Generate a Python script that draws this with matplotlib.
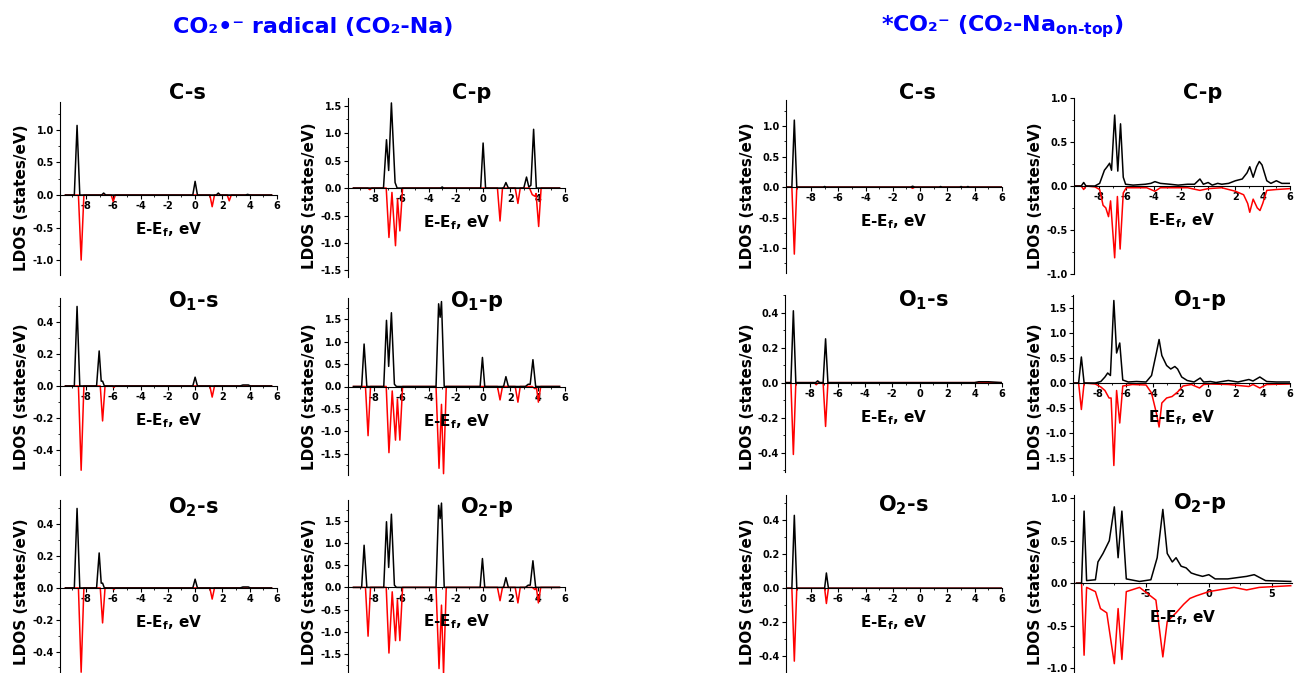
"""Spin-resolved LDOS panels for CO2 radical vs CO2 on-top (12 small plots)."""

import matplotlib
matplotlib.use("Agg")
import matplotlib.pyplot as plt
import matplotlib.transforms as mtransforms
from matplotlib.ticker import MultipleLocator, AutoMinorLocator, FormatStrFormatter, FixedLocator

plt.rcParams['font.family'] = ['DejaVu Sans']
plt.rcParams['font.weight'] = 'bold'
plt.rcParams['mathtext.fontset'] = 'custom'
plt.rcParams['mathtext.rm'] = 'DejaVu Sans:bold'
plt.rcParams['mathtext.it'] = 'DejaVu Sans:bold'
plt.rcParams['mathtext.bf'] = 'DejaVu Sans:bold'
plt.rcParams['mathtext.default'] = 'bf'
plt.rcParams['axes.unicode_minus'] = False

# ---- data: (E-Ef [eV], LDOS [states/eV]) vertices ----
# left block: CO2 radical (CO2-Na)
rad_cs_up = [(-9.5, 0), (-8.85, 0), (-8.65, 1.07), (-8.45, 0), (-6.85, 0), (-6.7, 0.03), (-6.55, 0),
             (-0.17, 0), (0.0, 0.21), (0.17, 0), (1.55, 0), (1.7, 0.03), (1.85, 0), (3.7, 0),
             (3.85, 0.01), (4.0, 0), (5.6, 0)]
rad_cs_dn = [(-9.5, 0), (-8.55, 0), (-8.35, -1.0), (-8.15, 0), (-6.15, 0), (-6.0, -0.1), (-5.85, 0),
             (1.08, 0), (1.25, -0.18), (1.42, 0), (2.35, 0), (2.5, -0.09), (2.65, 0), (5.6, 0)]
rad_cp_up = [(-9.5, 0), (-7.3, 0), (-7.08, 0.88), (-6.92, 0.32), (-6.72, 1.55), (-6.45, 0.1), (-6.3, 0),
             (-3.1, 0), (-3.0, 0.02), (-2.9, 0), (-0.18, 0), (0.0, 0.82), (0.18, 0), (1.5, 0),
             (1.67, 0.1), (1.85, 0), (2.98, 0), (3.18, 0.2), (3.35, 0.02), (3.5, 0.05), (3.7, 1.07),
             (3.9, 0), (5.6, 0)]
rad_cp_dn = [(-9.5, 0), (-8.45, 0), (-8.3, -0.03), (-8.15, 0), (-7.1, 0), (-6.9, -0.9), (-6.68, -0.08),
             (-6.42, -1.05), (-6.27, -0.2), (-6.1, -0.78), (-5.9, 0), (1.05, 0), (1.24, -0.6),
             (1.42, 0), (2.35, 0), (2.55, -0.28), (2.72, 0), (3.4, 0), (3.6, -0.12), (3.8, -0.15),
             (3.88, -0.1), (4.07, -0.7), (4.25, 0), (5.6, 0)]
rad_o1s_up = [(-9.5, 0), (-8.85, 0), (-8.65, 0.5), (-8.45, 0), (-7.22, 0), (-7.03, 0.22), (-6.88, 0.03),
              (-6.78, 0.03), (-6.65, 0), (-0.17, 0), (0.0, 0.055), (0.17, 0), (3.3, 0), (3.5, 0.006),
              (3.9, 0.006), (4.05, 0), (5.6, 0)]
rad_o1s_dn = [(-9.5, 0), (-8.55, 0), (-8.35, -0.53), (-8.15, 0), (-6.95, 0), (-6.78, -0.22), (-6.6, 0),
              (-6.05, 0), (-5.95, -0.01), (-5.85, 0), (1.08, 0), (1.25, -0.07), (1.42, 0), (5.6, 0)]
rad_o1p_up = [(-9.5, 0), (-8.9, 0), (-8.72, 0.95), (-8.52, 0), (-7.28, 0), (-7.08, 1.48), (-6.92, 0.45),
              (-6.72, 1.65), (-6.5, 0.05), (-6.35, 0), (-3.45, 0), (-3.26, 1.85), (-3.15, 1.55),
              (-3.05, 1.9), (-2.85, 0), (-0.22, 0), (-0.05, 0.65), (0.12, 0), (1.5, 0), (1.67, 0.22),
              (1.85, 0), (3.1, 0), (3.3, 0.05), (3.45, 0.05), (3.65, 0.6), (3.85, 0), (5.6, 0)]
rad_o1p_dn = [(-9.5, 0), (-8.62, 0), (-8.43, -1.1), (-8.25, 0), (-7.1, 0), (-6.9, -1.48), (-6.66, -0.1),
              (-6.42, -1.2), (-6.28, -0.28), (-6.1, -1.2), (-5.9, 0), (-3.45, 0), (-3.23, -1.83),
              (-3.05, -0.4), (-2.9, -1.95), (-2.7, 0), (1.05, 0), (1.24, -0.3), (1.42, 0), (2.35, 0),
              (2.55, -0.35), (2.72, 0), (3.6, 0), (3.8, -0.05), (3.9, 0), (4.05, -0.35), (4.22, 0),
              (5.6, 0)]
# O2 curves of the radical are the same as O1 (symmetric molecule)
rad_o2s_up, rad_o2s_dn = rad_o1s_up, rad_o1s_dn
rad_o2p_up, rad_o2p_dn = rad_o1p_up, rad_o1p_dn

# right block: *CO2- (CO2-Na on-top)
top_cs_up = [(-9.8, 0), (-9.4, 0), (-9.22, 1.1), (-9.04, 0), (-7.1, 0), (-7.0, 0.01), (-6.9, 0),
             (-0.7, 0), (-0.55, 0.015), (-0.4, 0), (1.4, 0), (1.5, 0.01), (1.6, 0), (2.9, 0),
             (3.0, 0.01), (3.1, 0), (3.4, 0), (3.5, 0.01), (3.6, 0), (6.0, 0)]
top_cs_dn = [(-9.8, 0), (-9.4, 0), (-9.22, -1.1), (-9.04, 0), (-0.7, 0), (-0.55, -0.02), (-0.4, 0),
             (6.0, 0)]
top_cp_up = [(-9.8, 0.0), (-9.3, 0.0), (-9.12, 0.04), (-8.95, 0.0), (-8.3, 0.0), (-7.95, 0.03),
             (-7.6, 0.18), (-7.4, 0.22), (-7.22, 0.26), (-7.08, 0.18), (-6.85, 0.81), (-6.62, 0.17),
             (-6.42, 0.71), (-6.22, 0.1), (-6.05, 0.02), (-5.5, 0.01), (-4.6, 0.02), (-4.2, 0.03),
             (-3.9, 0.05), (-3.5, 0.03), (-2.8, 0.02), (-2.2, 0.01), (-1.5, 0.02), (-1.0, 0.02),
             (-0.6, 0.08), (-0.35, 0.02), (0.0, 0.04), (0.3, 0.01), (0.7, 0.03), (1.0, 0.02),
             (1.5, 0.03), (2.0, 0.06), (2.5, 0.08), (2.85, 0.15), (3.05, 0.22), (3.3, 0.1),
             (3.55, 0.22), (3.75, 0.28), (3.95, 0.24), (4.3, 0.06), (4.6, 0.03), (5.0, 0.06),
             (5.4, 0.03), (6.0, 0.03)]
top_cp_dn = [(-9.8, 0.0), (-9.3, 0.0), (-9.12, -0.04), (-8.95, 0.0), (-8.3, -0.01), (-7.95, -0.04),
             (-7.7, -0.22), (-7.5, -0.25), (-7.3, -0.35), (-7.15, -0.17), (-6.85, -0.82),
             (-6.65, -0.12), (-6.45, -0.72), (-6.22, -0.08), (-6.0, -0.02), (-4.5, -0.02),
             (-3.9, -0.06), (-3.5, -0.02), (-2.5, -0.02), (-1.5, -0.02), (-0.6, -0.05), (0.0, -0.03),
             (1.0, -0.02), (2.0, -0.06), (2.6, -0.1), (2.9, -0.2), (3.05, -0.3), (3.3, -0.15),
             (3.6, -0.25), (3.8, -0.28), (4.0, -0.2), (4.3, -0.05), (5.0, -0.04), (6.0, -0.03)]
top_o1s_up = [(-9.8, 0), (-9.4, 0), (-9.22, 0.41), (-9.04, 0), (-7.6, 0), (-7.45, 0.01), (-7.3, 0),
              (-7.05, 0), (-6.87, 0.25), (-6.7, 0), (4.0, 0), (4.3, 0.005), (5.0, 0.005), (6.0, 0)]
top_o1s_dn = [(-9.8, 0), (-9.4, 0), (-9.22, -0.41), (-9.04, 0), (-7.7, 0), (-7.55, -0.012), (-7.4, 0),
              (-7.05, 0), (-6.87, -0.25), (-6.7, 0), (6.0, 0)]
top_o1p_up = [(-9.8, 0.0), (-9.42, 0.0), (-9.22, 0.52), (-9.02, 0.0), (-8.2, 0.0), (-7.8, 0.03),
              (-7.5, 0.12), (-7.3, 0.2), (-7.1, 0.15), (-6.85, 1.65), (-6.65, 0.6), (-6.42, 0.8),
              (-6.2, 0.06), (-5.8, 0.02), (-5.2, 0.03), (-4.5, 0.02), (-4.1, 0.15), (-3.75, 0.6),
              (-3.55, 0.87), (-3.35, 0.55), (-3.0, 0.35), (-2.7, 0.28), (-2.4, 0.33), (-2.2, 0.28),
              (-1.9, 0.12), (-1.5, 0.05), (-1.0, 0.02), (-0.55, 0.1), (-0.3, 0.02), (0.2, 0.03),
              (0.6, 0.01), (1.5, 0.05), (2.2, 0.02), (3.0, 0.07), (3.3, 0.04), (3.8, 0.12),
              (4.3, 0.03), (5.0, 0.02), (6.0, 0.02)]
top_o1p_dn = [(-9.8, 0.0), (-9.42, 0.0), (-9.22, -0.53), (-9.02, 0.0), (-8.2, -0.02), (-7.8, -0.08),
              (-7.5, -0.15), (-7.2, -0.3), (-7.05, -0.3), (-6.85, -1.65), (-6.65, -0.15),
              (-6.42, -0.8), (-6.2, -0.06), (-5.5, -0.03), (-4.5, -0.04), (-4.1, -0.2), (-3.75, -0.6),
              (-3.55, -0.88), (-3.35, -0.4), (-3.0, -0.3), (-2.6, -0.27), (-2.2, -0.18), (-1.8, -0.06),
              (-1.2, -0.03), (-0.6, -0.1), (-0.3, -0.03), (0.2, -0.02), (1.5, -0.03), (3.0, -0.07),
              (3.3, -0.03), (3.8, -0.1), (4.3, -0.03), (6.0, -0.02)]
top_o2s_up = [(-9.8, 0), (-9.4, 0), (-9.22, 0.43), (-9.04, 0), (-7.0, 0), (-6.87, 0.09), (-6.72, 0),
              (6.0, 0)]
top_o2s_dn = [(-9.8, 0), (-9.4, 0), (-9.22, -0.43), (-9.04, 0), (-7.0, 0), (-6.87, -0.09), (-6.72, 0),
              (6.0, 0)]
# O2-p of the on-top case is drawn on its own wider energy window
top_o2p_up = [(-10.5, 0.0), (-10.1, 0.0), (-9.9, 0.85), (-9.7, 0.03), (-9.0, 0.04), (-8.8, 0.25),
              (-8.4, 0.35), (-7.9, 0.5), (-7.5, 0.9), (-7.2, 0.3), (-6.9, 0.85), (-6.55, 0.05),
              (-5.5, 0.02), (-4.6, 0.04), (-4.1, 0.3), (-3.65, 0.87), (-3.3, 0.35), (-2.9, 0.25),
              (-2.6, 0.3), (-2.2, 0.2), (-1.8, 0.18), (-1.4, 0.12), (-1.0, 0.1), (-0.5, 0.08),
              (0.0, 0.1), (0.5, 0.05), (1.5, 0.05), (3.0, 0.08), (3.6, 0.1), (4.5, 0.03), (6.5, 0.02)]
top_o2p_dn = [(-10.5, 0.0), (-10.1, 0.0), (-9.9, -0.85), (-9.7, -0.05), (-9.0, -0.1), (-8.6, -0.3),
              (-8.1, -0.35), (-7.5, -0.95), (-7.2, -0.3), (-6.9, -0.9), (-6.55, -0.1), (-5.5, -0.05),
              (-4.2, -0.2), (-3.65, -0.87), (-3.3, -0.45), (-2.6, -0.35), (-2.0, -0.25), (-1.5, -0.18),
              (-1.0, -0.15), (0.0, -0.1), (2.0, -0.05), (3.0, -0.08), (4.0, -0.05), (6.5, -0.03)]
top_o2p_xticks = [-5, 0, 5]

panel_titles = ["C-s", "C-p", "O$_1$-s", "O$_1$-p", "O$_2$-s", "O$_2$-p"]
left_title = "CO₂•⁻ radical (CO₂-Na)"
right_title = "*CO₂⁻ (CO₂-Na$_{\\text{on-top}}$)"

W, H = 1294, 673
fig = plt.figure(figsize=(W / 100, H / 100), dpi=100)


def panel(rect, ylim, ystep, xlim, xstep, up, dn, title, title_xy, ylab_y, xticks=None):
    """rect is (left, top, right, bottom) in figure pixels."""
    l, t, r, b = rect
    ax = fig.add_axes([l / W, 1 - b / H, (r - l) / W, (b - t) / H])
    ax.plot([p[0] for p in up], [p[1] for p in up], color="black", lw=1.1, zorder=3)
    ax.plot([p[0] for p in dn], [p[1] for p in dn], color="red", lw=1.1, zorder=2)
    ax.set_xlim(*xlim)
    ax.set_ylim(*ylim)
    for s in ("top", "right"):
        ax.spines[s].set_visible(False)
    ax.spines["bottom"].set_position(("data", 0))
    for s in ("left", "bottom"):
        ax.spines[s].set_linewidth(0.8)
    if xticks is None:
        ax.xaxis.set_major_locator(MultipleLocator(xstep))
    else:
        ax.xaxis.set_major_locator(FixedLocator(xticks))
    ax.xaxis.set_minor_locator(AutoMinorLocator(2))
    ax.yaxis.set_major_locator(MultipleLocator(ystep))
    ax.yaxis.set_minor_locator(AutoMinorLocator(2))
    ax.yaxis.set_major_formatter(FormatStrFormatter("%.1f"))
    ax.tick_params(which="major", direction="out", length=3, width=0.8, labelsize=7, pad=1.5)
    ax.tick_params(which="minor", direction="out", length=1.5, width=0.6)
    ax.patch.set_visible(False)
    # x label sits inside the axes, just under the zero line
    trans = mtransforms.blended_transform_factory(ax.transAxes, ax.transData)
    ax.annotate("E-E$_f$, eV", xy=(0.5, 0), xycoords=trans, xytext=(0, -25),
                textcoords="offset points", ha="center", va="center", fontsize=11)
    fig.text(title_xy[0] / W, 1 - title_xy[1] / H, title, ha="center", va="center", fontsize=15)
    fig.text((l - 38) / W, 1 - ylab_y / H, "LDOS (states/eV)", rotation=90,
             ha="center", va="center", fontsize=11)
    return ax


xl_left = (-9.9, 6.0)
xl_right = (-9.83, 6.0)

# left block
panel((60, 102, 277, 275), (-1.23, 1.43), 0.5, xl_left, 2, rad_cs_up, rad_cs_dn, panel_titles[0], (187, 93), 198)
panel((348, 98, 565, 277), (-1.62, 1.64), 0.5, xl_left, 2, rad_cp_up, rad_cp_dn, panel_titles[1], (472, 93), 196)
panel((60, 298, 277, 475), (-0.56, 0.553), 0.2, xl_left, 2, rad_o1s_up, rad_o1s_dn, panel_titles[2], (193, 301), 397)
panel((348, 298, 565, 475), (-1.98, 1.98), 0.5, xl_left, 2, rad_o1p_up, rad_o1p_dn, panel_titles[3], (477, 301), 397)
panel((60, 500, 277, 673), (-0.535, 0.553), 0.2, xl_left, 2, rad_o2s_up, rad_o2s_dn, panel_titles[4], (193, 507), 592)
panel((348, 500, 565, 673), (-1.93, 1.97), 0.5, xl_left, 2, rad_o2p_up, rad_o2p_dn, panel_titles[5], (487, 507), 592)

# right block
panel((786, 100, 1002, 273), (-1.41, 1.43), 0.5, xl_right, 2, top_cs_up, top_cs_dn, panel_titles[0], (917, 93), 196)
panel((1074, 98, 1290, 274), (-1.005, 1.005), 0.5, xl_right, 2, top_cp_up, top_cp_dn, panel_titles[1], (1203, 93), 196)
panel((785, 295, 1002, 472), (-0.51, 0.50), 0.2, xl_right, 2, top_o1s_up, top_o1s_dn, panel_titles[2], (923, 300), 397)
panel((1073, 295, 1290, 475), (-1.84, 1.76), 0.5, xl_right, 2, top_o1p_up, top_o1p_dn, panel_titles[3], (1200, 300), 397)
panel((786, 495, 1002, 673), (-0.5, 0.55), 0.2, xl_right, 2, top_o2s_up, top_o2s_dn, panel_titles[4], (903, 505), 592)
panel((1074, 495, 1292, 673), (-1.06, 1.04), 0.5, (-10.7, 6.6), 5, top_o2p_up, top_o2p_dn, panel_titles[5],
      (1200, 503), 592, xticks=top_o2p_xticks)

fig.text(313 / W, 1 - 27 / H, left_title, ha="center", va="center", fontsize=16, color="#0000FF")
fig.text(1002 / W, 1 - 27 / H, right_title, ha="center", va="center", fontsize=16, color="#0000FF")

fig.savefig("out.png", dpi=100)
